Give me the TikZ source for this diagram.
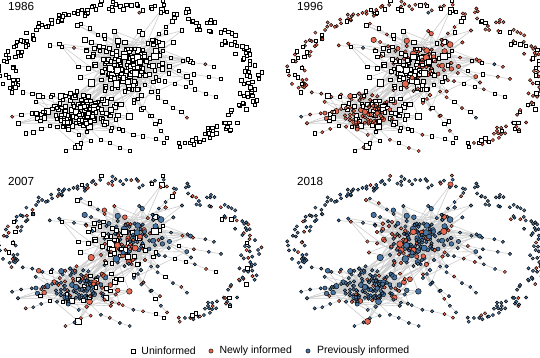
\documentclass[tikz,border=0pt]{standalone}
\usepackage{fontspec}
\setmainfont{Liberation Sans}
\usetikzlibrary{positioning}
\definecolor{newred}{HTML}{E8684F}
\definecolor{oldblue}{HTML}{4876A4}
\definecolor{tiegray}{HTML}{CDCDCD}

\pgfdeclarelayer{paper}
\pgfdeclarelayer{ties}
\pgfsetlayers{paper,ties,main}

\tikzset{
  uninformed/.style={draw=black, fill=white, rectangle, inner sep=0pt, line width=0.5pt},
  newly/.style={draw=black, fill=newred, circle, inner sep=0pt, line width=0.45pt},
  previously/.style={draw=black, fill=oldblue, circle, inner sep=0pt, line width=0.45pt},
  tie/.style={draw=tiegray, line width=0.6pt},
  yearlabel/.style={anchor=north west, inner sep=0pt, font=\fontsize{11.7}{14}\selectfont},
  legendtext/.style={inner sep=0pt, font=\fontsize{10.5}{12}\selectfont}
}

\newcounter{actor}
\newcounter{tie}
\newcommand\putactor[4]{%
  \stepcounter{actor}%
  \expandafter\xdef\csname ax\theactor\endcsname{#1}%
  \expandafter\xdef\csname ay\theactor\endcsname{#2}%
  \expandafter\xdef\csname as\theactor\endcsname{#3}%
  \expandafter\xdef\csname at\theactor\endcsname{#4}}
\newcommand\puttie[2]{%
  \stepcounter{tie}%
  \expandafter\xdef\csname ta\thetie\endcsname{#1}%
  \expandafter\xdef\csname tb\thetie\endcsname{#2}}
% stage: 1 = by 1986, 2 = by 1996, 3 = by 2007, 4 = by 2018
\newcommand\pickstage[3]{%
  \pgfmathsetmacro\rval{rnd}%
  \pgfmathtruncatemacro\stage{\rval<#1 ? 1 : (\rval<#2 ? 2 : (\rval<#3 ? 3 : 4))}}

\pgfmathsetseed{2018}
% upper core, hubs first
\putactor{121}{72}{7.4}{2}
\putactor{111}{69}{6.6}{4}
\putactor{133}{63}{5.4}{2}
\puttie{1}{2}\puttie{1}{3}
\foreach \q in {4,...,190}{%
  \pgfmathsetmacro\spread{rnd<0.75 ? 1 : 1.7}%
  \pgfmathsetmacro\x{128+19*\spread*(rand+rand+rand)}%
  \pgfmathsetmacro\y{64+11*\spread*(rand+rand+rand)}%
  \pgfmathsetmacro\sz{3.5+3.2*rnd^6}%
  \pgfmathtruncatemacro\core{(\x<128)&&(\y>50)&&(\y<82)}%
  \ifnum\core=1 \pickstage{0.005}{0.35}{0.64}\else\pickstage{0.02}{0.62}{0.86}\fi
  \putactor{\x}{\y}{\sz}{\stage}%
  \pgfmathtruncatemacro\other{1+int(rnd*(\q-1))}%
  \puttie{\other}{\theactor}%
  \pgfmathtruncatemacro\other{1+int(rnd^2*(\q-1))}%
  \puttie{\other}{\theactor}%
}
\xdef\uplast{\number\value{actor}}

% lower core
\xdef\lowfirst{\number\numexpr\value{actor}+1\relax}
\putactor{72}{110}{5.2}{2}
\foreach \q in {2,...,150}{%
  \pgfmathsetmacro\spread{rnd<0.75 ? 1 : 1.6}%
  \pgfmathsetmacro\x{80+17*\spread*(rand+rand+rand)}%
  \pgfmathsetmacro\y{114+10*\spread*(rand+rand+rand)}%
  \pgfmathsetmacro\sz{3.5+2.6*rnd^6}%
  \pgfmathtruncatemacro\core{\x<95}%
  \ifnum\core=1 \pickstage{0.01}{0.6}{0.86}\else\pickstage{0.005}{0.3}{0.62}\fi
  \putactor{\x}{\y}{\sz}{\stage}%
  \pgfmathtruncatemacro\other{\lowfirst+int(rnd*(\q-1))}%
  \puttie{\other}{\theactor}%
  \pgfmathtruncatemacro\other{\lowfirst+int(rnd^2*(\q-1))}%
  \puttie{\other}{\theactor}%
}
\xdef\lowlast{\number\value{actor}}

% links between the two cores
\foreach \q in {1,...,30}{%
  \pgfmathtruncatemacro\ua{1+int(rnd*\uplast)}%
  \pgfmathtruncatemacro\lb{\lowfirst+int(rnd*(\lowlast-\lowfirst+1))}%
  \puttie{\ua}{\lb}}

% chains leaving the cores
\foreach \sx/\sy/\ex/\ey/\len/\hub in {
  150/92/188/118/6/1, 138/100/168/138/6/1, 165/80/215/96/6/1,
  172/58/215/66/5/1, 152/40/172/22/4/1, 105/40/82/24/4/1,
  180/70/222/80/4/1, 85/50/50/46/4/1, 62/100/22/92/5/2,
  50/126/26/134/4/2, 112/128/165/142/6/2, 100/140/130/152/4/2,
  125/92/160/122/5/1, 90/140/66/152/4/2, 42/112/12/116/4/2}{%
  \foreach \q in {1,...,\len}{%
    \pgfmathsetmacro\x{\sx+(\ex-\sx)*(\q-1)/(\len-1)+1.2*rand}%
    \pgfmathsetmacro\y{\sy+(\ey-\sy)*(\q-1)/(\len-1)+1.2*rand}%
    \pickstage{0.03}{0.5}{0.8}%
    \putactor{\x}{\y}{3.3}{\stage}%
    \ifnum\q=1
      \ifnum\hub=1
        \pgfmathtruncatemacro\other{1+int(rnd*\uplast)}%
      \else
        \pgfmathtruncatemacro\other{\lowfirst+int(rnd*(\lowlast-\lowfirst+1))}%
      \fi
      \puttie{\other}{\theactor}%
    \else
      \puttie{\prev}{\theactor}%
    \fi
    \xdef\prev{\theactor}%
  }}

% ring of small components
\foreach \g in {1,...,112}{%
  \pgfmathsetmacro\ringang{-65+2.277*(\g-0.5)+1.2*rand}%
  \pgfmathsetmacro\ringrad{1+0.07*rand}%
  \pgfmathtruncatemacro\gsize{1+int(rnd*2.5)}%
  \xdef\grpfirst{\number\numexpr\value{actor}+1\relax}%
  \pgfmathsetmacro\x{128+122*\ringrad*cos(\ringang)}%
  \pgfmathsetmacro\y{80-74*\ringrad*sin(\ringang)}%
  \pickstage{0.01}{0.64}{0.86}%
  \putactor{\x}{\y}{3.3}{\stage}%
  \ifnum\gsize>1
    \foreach \q in {2,...,\gsize}{%
      \pgfmathsetmacro\ringdir{360*rnd}%
      \pgfmathsetmacro\mx{\x+4.2*cos(\ringdir)}%
      \pgfmathsetmacro\my{\y+4.2*sin(\ringdir)}%
      \pickstage{0.01}{0.64}{0.86}%
      \putactor{\mx}{\my}{3.3}{\stage}%
      \puttie{\grpfirst}{\theactor}}%
  \fi
}
\edef\nactors{\number\value{actor}}
\edef\nties{\number\value{tie}}

\newcommand\drawpanel[5]{%
  \begin{scope}[shift={(#2,#3)}]
    \node[yearlabel] (#1-year) at (8,2) {#5};
    \foreach \q in {1,...,\nactors}{%
      \edef\x{\csname ax\q\endcsname}%
      \edef\y{\csname ay\q\endcsname}%
      \edef\sz{\csname as\q\endcsname}%
      \edef\st{\csname at\q\endcsname}%
      \ifnum\st>#4\relax
        \node[uninformed, minimum size=\sz pt] (#1-\q) at (\x,\y) {};%
      \else\ifnum\st=#4\relax
        \node[newly, minimum size=\sz pt] (#1-\q) at (\x,\y) {};%
      \else
        \node[previously, minimum size=\sz pt] (#1-\q) at (\x,\y) {};%
      \fi\fi
    }%
    \begin{pgfonlayer}{ties}
      \foreach \k in {1,...,\nties}{%
        \edef\ta{\csname ta\k\endcsname}%
        \edef\tb{\csname tb\k\endcsname}%
        \draw[tie] (#1-\ta) -- (#1-\tb);}%
    \end{pgfonlayer}
  \end{scope}}

\begin{document}
\begin{tikzpicture}[x=1pt, y=-1pt]
  \useasboundingbox (0,0) rectangle (540,358);
  \begin{pgfonlayer}{paper}
    \fill[white] (0,0) rectangle (540,358);
  \end{pgfonlayer}

  \drawpanel{a}{0}{0}{1}{1986}
  \drawpanel{b}{289}{0}{2}{1996}
  \drawpanel{c}{0}{175}{3}{2007}
  \drawpanel{d}{289}{175}{4}{2018}

  % legend
  \node[uninformed, minimum size=4pt] (key-un) at (133,351) {};
  \node[legendtext, right=6pt of key-un] (key-un-text) {Uninformed};
  \node[newly, minimum size=4.2pt] (key-new) at (211,351) {};
  \node[legendtext, right=6pt of key-new] (key-new-text) {Newly informed};
  \node[previously, minimum size=4.2pt] (key-old) at (308,351) {};
  \node[legendtext, right=6.5pt of key-old] (key-old-text) {Previously informed};
\end{tikzpicture}
\end{document}
